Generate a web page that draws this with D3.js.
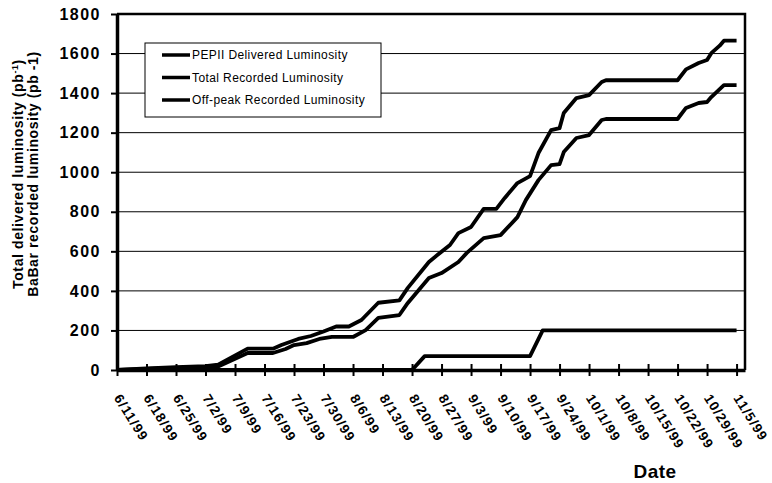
<!DOCTYPE html>
<html>
<head>
<meta charset="utf-8">
<script src="https://cdn.jsdelivr.net/npm/d3@7"></script>
<style>
  body { margin: 0; background: #fff; }
  svg { display: block; font-family: "Liberation Sans", Arial, sans-serif; }
</style>
</head>
<body>
<script>
const WIDTH = 772;
const HEIGHT = 483;
const LEFT = 117;
const RIGHT = 745;
const TOP = 14;
const BOTTOM = 370;

const xTickLabels = [
  "6/11/99", "6/18/99", "6/25/99", "7/2/99", "7/9/99", "7/16/99", "7/23/99",
  "7/30/99", "8/6/99", "8/13/99", "8/20/99", "8/27/99", "9/3/99", "9/10/99",
  "9/17/99", "9/24/99", "10/1/99", "10/8/99", "10/15/99", "10/22/99",
  "10/29/99", "11/5/99"
];
const xDomainEnd = "11/7/99";
const yTicks = [0, 200, 400, 600, 800, 1000, 1200, 1400, 1600, 1800];

const seriesNames = [
  "PEPII Delivered Luminosity",
  "Total Recorded Luminosity",
  "Off-peak Recorded Luminosity"
];

const deliveredDates = [
  "6/11/99", "6/18/99", "6/25/99", "7/2/99", "7/5/99", "7/12/99", "7/18/99",
  "7/20/99", "7/24/99", "7/27/99", "7/30/99", "8/2/99", "8/5/99", "8/8/99",
  "8/12/99", "8/17/99", "8/19/99", "8/24/99", "8/26/99", "8/29/99", "8/31/99",
  "9/3/99", "9/6/99", "9/9/99", "9/11/99", "9/14/99", "9/17/99", "9/19/99",
  "9/22/99", "9/24/99", "9/25/99", "9/28/99", "10/1/99", "10/4/99", "10/5/99",
  "10/22/99", "10/24/99", "10/27/99", "10/29/99", "10/30/99", "11/1/99",
  "11/2/99", "11/5/99"
];
const deliveredValues = [
  0, 8, 14, 20, 27, 108, 108,
  126, 157, 172, 195, 220, 220, 253,
  340, 352, 415, 546, 581, 632, 692,
  723, 815, 815, 870, 945, 980, 1097,
  1213, 1223, 1299, 1375, 1390, 1456, 1465,
  1465, 1520, 1552, 1567, 1602, 1640,
  1665, 1665
];

const recordedDates = [
  "6/11/99", "6/18/99", "6/25/99", "7/2/99", "7/5/99", "7/12/99", "7/18/99",
  "7/21/99", "7/23/99", "7/26/99", "7/29/99", "8/1/99", "8/6/99", "8/9/99",
  "8/12/99", "8/17/99", "8/19/99", "8/24/99", "8/27/99", "8/31/99", "9/2/99",
  "9/6/99", "9/10/99", "9/14/99", "9/16/99", "9/19/99", "9/22/99", "9/24/99",
  "9/25/99", "9/28/99", "10/1/99", "10/4/99", "10/5/99", "10/22/99",
  "10/24/99", "10/27/99", "10/29/99", "10/30/99", "11/2/99", "11/5/99"
];
const recordedValues = [
  0, 5, 10, 14, 17, 86, 86,
  106, 126, 136, 157, 167, 167, 202,
  263, 278, 339, 465, 490, 546, 592,
  667, 682, 773, 859, 960, 1036, 1041,
  1102, 1173, 1188, 1264, 1269, 1269,
  1325, 1350, 1355, 1380, 1440, 1440
];

const offpeakDates = ["6/11/99", "8/20/99", "8/23/99", "9/17/99", "9/20/99", "11/5/99"];
const offpeakValues = [0, 0, 70, 70, 200, 200];

const parse = d3.timeParse("%m/%d/%y");
const fmt = d3.timeFormat("%-m/%-d/%y");

const toPoints = (dates, values) =>
  dates.map((d, i) => ({ date: parse(d), value: values[i] }));

const series = [
  toPoints(deliveredDates, deliveredValues),
  toPoints(recordedDates, recordedValues),
  toPoints(offpeakDates, offpeakValues)
];

const svg = d3.select("body").append("svg")
  .attr("width", WIDTH)
  .attr("height", HEIGHT);

const x = d3.scaleTime()
  .domain([parse(xTickLabels[0]), parse(xDomainEnd)])
  .range([LEFT, RIGHT]);

const y = d3.scaleLinear()
  .domain([0, 1800])
  .range([BOTTOM, TOP]);

// gridlines
svg.append("g")
  .selectAll("line")
  .data(yTicks.filter((t) => t > 0 && t < 1800))
  .join("line")
  .attr("x1", LEFT)
  .attr("x2", RIGHT)
  .attr("y1", (d) => y(d))
  .attr("y2", (d) => y(d))
  .attr("stroke", "#000")
  .attr("stroke-width", 1);

// top and right border
svg.append("path")
  .attr("d", `M${LEFT},${y(1800)}H${RIGHT}V${BOTTOM}`)
  .attr("fill", "none")
  .attr("stroke", "#000")
  .attr("stroke-width", 2.5);

// series
const line = d3.line()
  .x((d) => x(d.date))
  .y((d) => y(d.value));

svg.append("g")
  .selectAll("path")
  .data(series)
  .join("path")
  .attr("d", line)
  .attr("fill", "none")
  .attr("stroke", "#000")
  .attr("stroke-width", 3.8)
  .attr("stroke-linejoin", "round");

// x axis
const xAxis = svg.append("g")
  .attr("transform", `translate(0,${BOTTOM})`)
  .call(
    d3.axisBottom(x)
      .tickValues(xTickLabels.map(parse))
      .tickFormat(fmt)
      .tickSizeOuter(0)
  );
xAxis.select(".domain").attr("stroke-width", 3.5);
xAxis.selectAll(".tick line")
  .attr("y1", -6)
  .attr("y2", 6)
  .attr("stroke-width", 2);
xAxis.selectAll(".tick text")
  .attr("text-anchor", "start")
  .attr("dy", null)
  .attr("y", null)
  .attr("transform", "translate(-4,28) rotate(58)")
  .attr("font-size", 13.5)
  .attr("font-weight", "bold")
  .attr("letter-spacing", 1.1)
  .attr("fill", "#000");

// y axis
const yAxis = svg.append("g")
  .attr("transform", `translate(${LEFT},0)`)
  .call(
    d3.axisLeft(y)
      .tickValues(yTicks)
      .tickFormat(d3.format("d"))
      .tickSize(6)
      .tickPadding(10)
      .tickSizeOuter(0)
  );
yAxis.select(".domain").attr("stroke-width", 3.5);
yAxis.selectAll(".tick line").attr("stroke-width", 2);
yAxis.selectAll(".tick text")
  .attr("font-size", 16)
  .attr("font-weight", "bold")
  .attr("letter-spacing", 1.5)
  .attr("fill", "#000");

// axis titles
const yTitle = svg.append("text")
  .attr("transform", "translate(0,174) rotate(-90)")
  .attr("text-anchor", "middle")
  .attr("font-size", 14)
  .attr("font-weight", "bold")
  .attr("letter-spacing", 0.6)
  .attr("fill", "#000");
const t1 = yTitle.append("tspan").attr("x", 0).attr("y", 23);
t1.append("tspan").text("Total delivered  luminosity (pb");
t1.append("tspan").text("-1").attr("dy", -5).attr("font-size", 9);
t1.append("tspan").text(")").attr("dy", 5);
yTitle.append("tspan").attr("x", 0).attr("y", 38).text("BaBar recorded luminosity (pb -1)");

svg.append("text")
  .attr("x", 655)
  .attr("y", 478)
  .attr("text-anchor", "middle")
  .attr("font-size", 19)
  .attr("font-weight", "bold")
  .attr("letter-spacing", 0.5)
  .text("Date");

// legend
const legend = svg.append("g");
legend.append("rect")
  .attr("x", 145)
  .attr("y", 43)
  .attr("width", 236)
  .attr("height", 74)
  .attr("fill", "#fff")
  .attr("stroke", "#000")
  .attr("stroke-width", 1);

const items = legend.selectAll("g.item")
  .data(seriesNames)
  .join("g")
  .attr("class", "item")
  .attr("transform", (d, i) => `translate(162,${55 + i * 22.5})`);
items.append("line")
  .attr("x1", 0)
  .attr("x2", 28)
  .attr("stroke", "#000")
  .attr("stroke-width", 3.5);
items.append("text")
  .attr("x", 30)
  .attr("dy", "0.35em")
  .attr("font-size", 12)
  .attr("letter-spacing", 0.4)
  .text((d) => d);
</script>
</body>
</html>
